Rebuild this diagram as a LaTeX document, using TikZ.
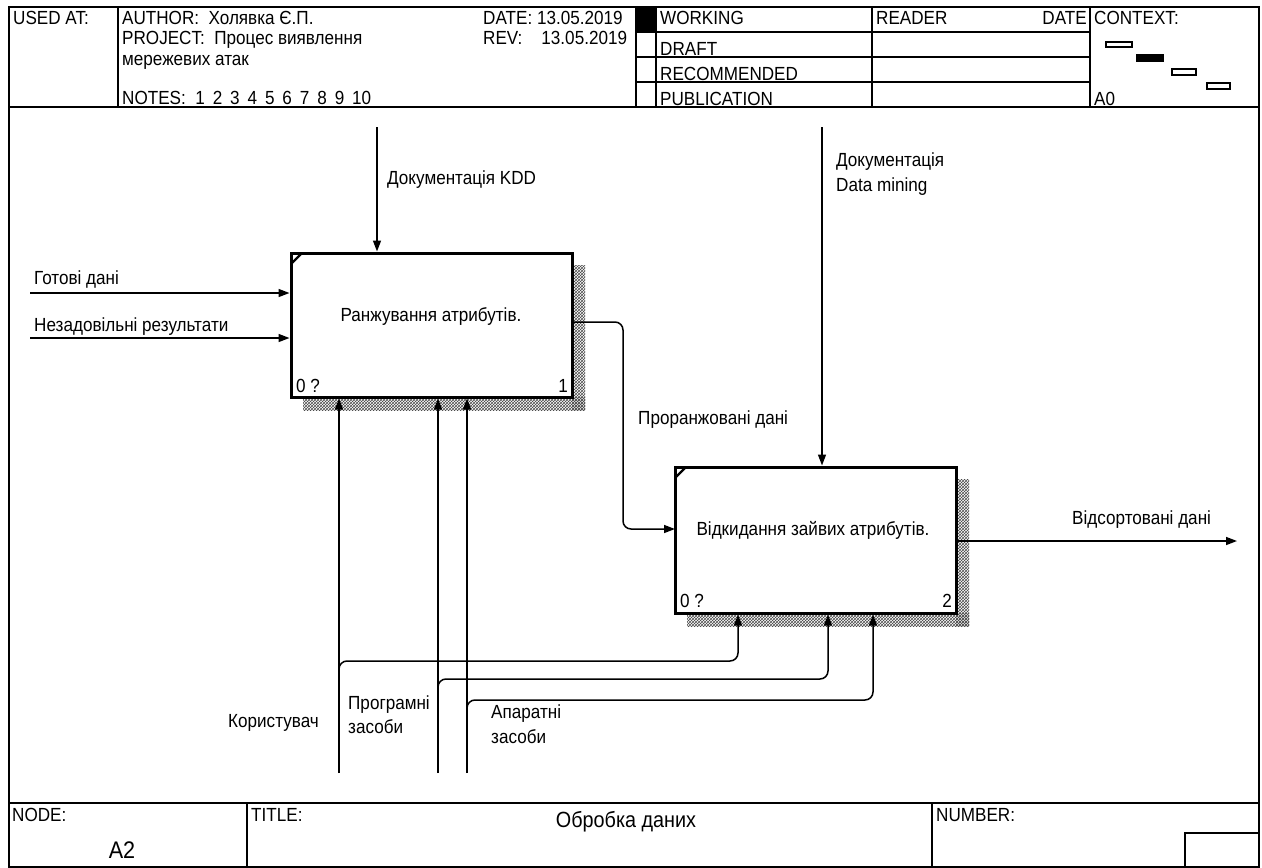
\documentclass[tikz,border=0pt]{standalone}
\usepackage{fontspec}
\setmainfont{Liberation Sans}[FakeStretch=0.9]
\usetikzlibrary{arrows.meta,patterns}
\tikzset{
  frameln/.style={line width=1.3pt},
  actbox/.style={draw, line width=3pt, minimum width=281pt, minimum height=144pt, inner sep=0pt},
  arr/.style={line width=1.5pt, -{Triangle[length=11pt,width=8pt]}},
  txt/.style={anchor=base west, inner sep=0pt, font=\fontsize{19}{22}\selectfont},
  txtr/.style={anchor=base east, inner sep=0pt, font=\fontsize{19}{22}\selectfont},
  boxtxt/.style={anchor=base, inner sep=0pt, font=\fontsize{19}{22}\selectfont},
  shadowfill/.style={pattern=crosshatch, pattern color=black!70, draw=none},
}
\begin{document}
\begin{tikzpicture}[x=1pt,y=-1pt]
\useasboundingbox (0,0) rectangle (1262,868);
% outer frame
\draw[frameln] (9,7) rectangle (1259,867);
% header
\draw[frameln] (9,107) -- (1259,107);
\foreach \xx in {118,636,656,872,1090} \draw[frameln] (\xx,7) -- (\xx,107);
\foreach \yy in {32,57,82} \draw[frameln] (636,\yy) -- (1090,\yy);
\fill (636,7) rectangle (656,32);
\node[txt] (usedat) at (13,24) {USED AT:};
\node[txt] (author) at (122,24) {AUTHOR:\ \ Холявка Є.П.};
\node[txt] (project) at (122,44) {PROJECT:\ \ Процес виявлення};
\node[txt] (project2) at (122,65) {мережевих атак};
\node[txt] (notes) at (122,104) {NOTES:\ \ 1\ \,2\ \,3\ \,4\ \,5\ \,6\ \,7\ \,8\ \,9\ \,10};
\node[txt] (date) at (483,24) {DATE: 13.05.2019};
\node[txt] (rev) at (483,44) {REV:\ \ \ \ 13.05.2019};
\node[txt] (working) at (660,24) {WORKING};
\node[txt] (draft) at (660,55) {DRAFT};
\node[txt] (recom) at (660,80) {RECOMMENDED};
\node[txt] (publ) at (660,105) {PUBLICATION};
\node[txt] (reader) at (876,24) {READER};
\node[txtr] (rdate) at (1087,24) {DATE};
\node[txt] (context) at (1094,24) {CONTEXT:};
\node[txt] (a0) at (1094,105) {A0};
\draw[frameln] (1106,42) rectangle (1132,47);
\filldraw[frameln] (1137,55) rectangle (1163,61);
\draw[frameln] (1172,69) rectangle (1196,75);
\draw[frameln] (1207,83) rectangle (1230,89);
% footer
\draw[frameln] (9,803) -- (1259,803);
\draw[frameln] (247,803) -- (247,867);
\draw[frameln] (932,803) -- (932,867);
\draw[frameln] (1185,833) rectangle (1259,867);
\node[txt] (nodelbl) at (12,821) {NODE:};
\node[anchor=center, inner sep=0pt, font=\fontsize{24}{26}\selectfont] (nodeval) at (122,850) {A2};
\node[txt] (titlelbl) at (251,821) {TITLE:};
\node[anchor=center, inner sep=0pt, font=\fontsize{22}{24}\selectfont] (titleval) at (626,822) {Обробка даних};
\node[txt] (numlbl) at (936,821) {NUMBER:};
% shadows
\fill[shadowfill] (572,265) rectangle (585,410);
\fill[shadowfill] (303,397) rectangle (585,410);
\fill[shadowfill] (956,479) rectangle (969,626);
\fill[shadowfill] (687,613) rectangle (969,626);
% activity boxes
\node[actbox, fill=white] (b1) at (431.5,325) {};
\node[actbox, fill=white, minimum height=146pt] (b2) at (815.5,540) {};
\draw[line width=2.2pt] (291,264) -- (302,253);
\draw[line width=2.2pt] (675,478) -- (686,467);
\node[boxtxt] (b1t) at (431,321) {Ранжування атрибутів.};
\node[txt] (b1z) at (296,392) {0 ?};
\node[txtr] (b1n) at (568,392) {1};
\node[boxtxt] (b2t) at (813,535) {Відкидання зайвих атрибутів.};
\node[txt] (b2z) at (680,607) {0 ?};
\node[txtr] (b2n) at (952,607) {2};
% controls
\coordinate (kdd) at (377,127);
\draw[arr] (kdd) -- (kdd |- b1.north);
\node[txt] (kddl) at (387,184) {Документація KDD};
\coordinate (dm) at (822,127);
\draw[arr] (dm) -- (dm |- b2.north);
\node[txt] (dml1) at (836,166) {Документація};
\node[txt] (dml2) at (836,191) {Data mining};
% inputs
\coordinate (in1) at (30,293);
\draw[arr] (in1) -- (in1 -| b1.west);
\node[txt] (in1l) at (34,284) {Готові дані};
\coordinate (in2) at (30,338);
\draw[arr] (in2) -- (in2 -| b1.west);
\node[txt] (in2l) at (34,331) {Незадовільні результати};
% box1 -> box2
\coordinate (o1) at (573,322);
\coordinate (i2) at (675,529);
\draw[arr, rounded corners=8pt] (o1) -| (623,529) -- (i2);
\node[txt] (o1l) at (638,424) {Проранжовані дані};
% output
\coordinate (out) at (1237,541);
\draw[arr] (b2.east |- out) -- (out);
\node[txt] (outl) at (1072,524) {Відсортовані дані};
% mechanisms
\coordinate (m1) at (339,773);
\coordinate (m2) at (438,773);
\coordinate (m3) at (467,773);
\draw[arr] (m1) -- (m1 |- b1.south);
\draw[arr] (m2) -- (m2 |- b1.south);
\draw[arr] (m3) -- (m3 |- b1.south);
\coordinate (t1) at (738,0);
\coordinate (t2) at (828,0);
\coordinate (t3) at (873,0);
\coordinate (m1b) at (339,669);
\coordinate (m2b) at (438,687);
\coordinate (m3b) at (467,708);
\draw[arr, rounded corners=8pt] (m1b) -- ++(0,-8) -| (t1 |- b2.south);
\draw[arr, rounded corners=8pt] (m2b) -- ++(0,-8) -| (t2 |- b2.south);
\draw[arr, rounded corners=8pt] (m3b) -- ++(0,-8) -| (t3 |- b2.south);
\node[txt] (m1l) at (228,727) {Користувач};
\node[txt] (m2l1) at (348,709) {Програмні};
\node[txt] (m2l2) at (348,733) {засоби};
\node[txt] (m3l1) at (491,718) {Апаратні};
\node[txt] (m3l2) at (491,743) {засоби};
\end{tikzpicture}
\end{document}
